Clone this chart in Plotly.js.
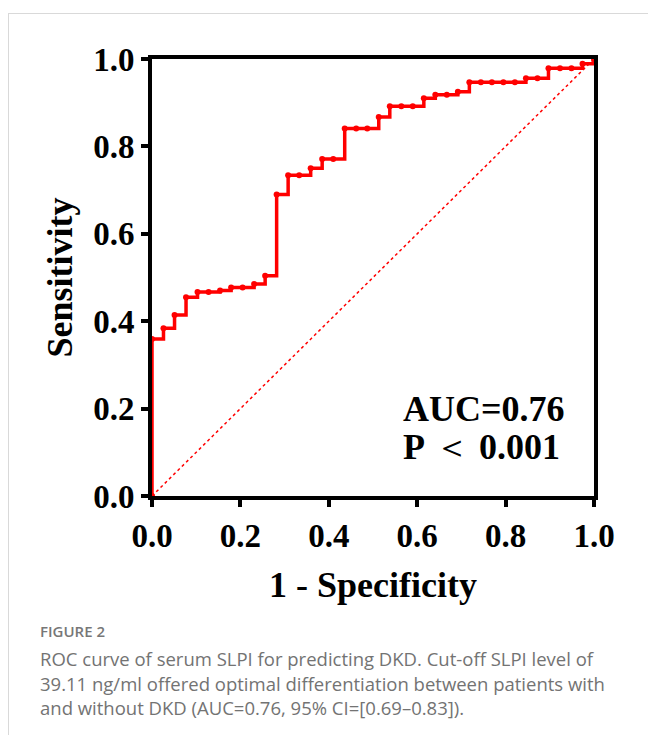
<!DOCTYPE html>
<html>
<head>
<meta charset="utf-8">
<script src="https://cdn.plot.ly/plotly-3.0.1.min.js"></script>
<style>
  html, body { margin: 0; padding: 0; background: #ffffff; }
  #wrap { position: relative; width: 648px; height: 735px; overflow: hidden; }
  #frame { position: absolute; left: 8px; top: 13px; width: 660px; height: 740px;
           border-left: 1px solid #d9d9d9; border-top: 1px solid #d9d9d9; }
  #chart { position: absolute; left: 0; top: 0; width: 648px; height: 735px; }
  #caption { position: absolute; left: 40px; top: 620px; width: 608px;
             font-family: "Open Sans", Lato, sans-serif; color: #737373; }
  #caption .fig { font-size: 15px; font-weight: 600; color: #777777; line-height: 22px; }
  #caption .txt { font-size: 18.5px; font-weight: 400; line-height: 24.5px; margin-top: 5px;
                  white-space: nowrap; }
</style>
</head>
<body>
<div id="wrap">
  <div id="frame"></div>
  <div id="chart"></div>
  <div id="caption">
    <div class="fig">FIGURE 2</div>
    <div class="txt">ROC curve of serum SLPI for predicting DKD. Cut-off SLPI level of<br>39.11 ng/ml offered optimal differentiation between patients with<br>and without DKD (AUC=0.76, 95% CI=[0.69&#8211;0.83]).</div>
  </div>
</div>
<script>
// ROC curve points (1 - Specificity, Sensitivity)
const fpr = [0, 0, 0.026, 0.051, 0.077, 0.103, 0.128, 0.154, 0.179, 0.205, 0.231,
  0.256, 0.282, 0.308, 0.333, 0.359, 0.385, 0.410, 0.436, 0.462, 0.487,
  0.513, 0.538, 0.564, 0.590, 0.615, 0.641, 0.667, 0.692, 0.718, 0.744,
  0.769, 0.795, 0.821, 0.846, 0.872, 0.897, 0.923, 0.949, 0.974, 1.0];
const sensitivity = [0, 0.359, 0.384, 0.414, 0.455, 0.467, 0.467, 0.470, 0.477, 0.477, 0.485,
  0.504, 0.690, 0.734, 0.734, 0.750, 0.771, 0.771, 0.841, 0.841, 0.841,
  0.867, 0.892, 0.892, 0.892, 0.910, 0.918, 0.918, 0.925, 0.947, 0.947,
  0.947, 0.947, 0.947, 0.956, 0.956, 0.979, 0.979, 0.979, 0.989, 1.0];
const refX = [0, 1];
const refY = [0, 1];
const tickVals = [0, 0.2, 0.4, 0.6, 0.8, 1.0];
const tickText = ['0.0', '0.2', '0.4', '0.6', '0.8', '1.0'];
const aucLabel = 'AUC=0.76';
const pLabel = ['P', '\uFF1C', '0.001'];

const serif = '"Liberation Serif", "Times New Roman", serif';

const traces = [
  {
    x: refX, y: refY, type: 'scatter', mode: 'lines',
    line: { color: '#ff0000', width: 1.5, dash: 'dot' },
    hoverinfo: 'skip', showlegend: false
  },
  {
    x: fpr, y: sensitivity, type: 'scatter', mode: 'lines+markers',
    line: { color: '#ff0000', width: 3.5, shape: 'hv' },
    marker: { color: '#ff0000', size: 6 },
    cliponaxis: false, showlegend: false
  }
];

const axisCommon = {
  range: [0, 1], tickmode: 'array', tickvals: tickVals, ticktext: tickText,
  showgrid: false, zeroline: false, showline: true, linecolor: '#000000', linewidth: 4,
  mirror: true, ticks: 'outside', ticklen: 7, tickwidth: 4, tickcolor: '#000000',
  tickfont: { family: serif, size: 33, color: '#000000', weight: 'bold' },
  fixedrange: true
};

const layout = {
  width: 648, height: 735,
  margin: { l: 152, r: 54, t: 59, b: 239 },
  paper_bgcolor: 'rgba(0,0,0,0)', plot_bgcolor: 'rgba(0,0,0,0)',
  xaxis: Object.assign({}, axisCommon, {
    title: { text: '<b>1 - Specificity</b>', standoff: 20,
             font: { family: serif, size: 36, color: '#000000' } }
  }),
  yaxis: Object.assign({}, axisCommon, {
    title: { text: '<b>Sensitivity</b>', standoff: 11,
             font: { family: serif, size: 36, color: '#000000' } }
  }),
  annotations: [
    { x: 0.563, y: 0.199, xref: 'x', yref: 'y', xanchor: 'left', yanchor: 'middle',
      text: '<b>' + aucLabel + '</b>', showarrow: false,
      font: { family: serif, size: 36, color: '#000000' } },
    { x: 0.563, y: 0.112, xref: 'x', yref: 'y', xanchor: 'left', yanchor: 'middle',
      text: '<b>' + pLabel[0] + '</b> ' + pLabel[1] + ' <b>' + pLabel[2] + '</b>', showarrow: false,
      font: { family: serif, size: 36, color: '#000000' } }
  ],
  showlegend: false
};

Plotly.newPlot('chart', traces, layout, { displayModeBar: false, staticPlot: true });
</script>
</body>
</html>
